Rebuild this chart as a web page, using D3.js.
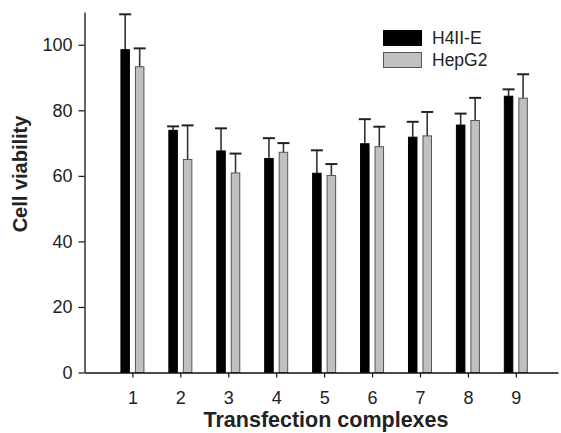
<!DOCTYPE html>
<html lang="en">
<head>
<meta charset="utf-8">
<title>Cell viability</title>
<script src="https://d3js.org/d3.v7.min.js"></script>
<style>
  body { margin: 0; background: #fff; }
  text { font-family: "Liberation Sans", Arial, sans-serif; fill: #222; }
</style>
</head>
<body>
<script>
// values
const complexes = [1, 2, 3, 4, 5, 6, 7, 8, 9];
const h4iieMean = [98.5, 73.9, 67.6, 65.3, 60.8, 69.8, 71.8, 75.5, 84.3];
const h4iieErr  = [10.8, 1.2, 6.9, 6.2, 7.0, 7.5, 4.7, 3.5, 2.1];
const hepg2Mean = [93.3, 65.0, 60.9, 67.2, 60.1, 68.9, 72.2, 76.9, 83.7];
const hepg2Err  = [5.6, 10.4, 5.9, 2.8, 3.5, 6.1, 7.3, 6.9, 7.3];
const seriesNames = ["H4II-E", "HepG2"];
const yTicks = [0, 20, 40, 60, 80, 100];

const width = 561, height = 433;

const svg = d3.select("body").append("svg")
  .attr("width", width)
  .attr("height", height);

const x = d3.scaleLinear().domain([0, 9.88]).range([84.5, 558]);
const y = d3.scaleLinear().domain([0, 110]).range([372.5, 12]);

const barW = 9.5, gap = 2.5;

const series = [
  { name: seriesNames[0], mean: h4iieMean, err: h4iieErr, fill: "#000", stroke: "#000", off: -(gap + barW) },
  { name: seriesNames[1], mean: hepg2Mean, err: hepg2Err, fill: "#c0c0c0", stroke: "#555", off: gap }
];

// bars + error bars
series.forEach(s => {
  const g = svg.append("g");
  const rows = complexes.map((c, i) => ({ c, m: s.mean[i], e: s.err[i] }));

  g.selectAll("line.err").data(rows).join("line")
    .attr("x1", d => x(d.c) + s.off + barW / 2)
    .attr("x2", d => x(d.c) + s.off + barW / 2)
    .attr("y1", d => y(d.m))
    .attr("y2", d => y(d.m + d.e))
    .attr("stroke", "#333").attr("stroke-width", 1.6);

  g.selectAll("line.cap").data(rows).join("line")
    .attr("x1", d => x(d.c) + s.off + barW / 2 - 6)
    .attr("x2", d => x(d.c) + s.off + barW / 2 + 6)
    .attr("y1", d => y(d.m + d.e))
    .attr("y2", d => y(d.m + d.e))
    .attr("stroke", "#222").attr("stroke-width", 2);

  g.selectAll("rect").data(rows).join("rect")
    .attr("x", d => x(d.c) + s.off + 0.5)
    .attr("y", d => y(d.m))
    .attr("width", barW - 1)
    .attr("height", d => y(0) - y(d.m))
    .attr("fill", s.fill)
    .attr("stroke", s.stroke)
    .attr("stroke-width", 1);
});

// axes
const yAxis = svg.append("g")
  .attr("transform", `translate(${x(0)},0)`)
  .call(d3.axisLeft(y).tickValues(yTicks).tickSize(6).tickPadding(6).tickSizeOuter(0));
yAxis.select(".domain").attr("stroke", "#111").attr("stroke-width", 1.3);
yAxis.selectAll(".tick line").attr("stroke", "#111").attr("stroke-width", 1.2);
yAxis.selectAll("text").style("font-size", "18px").attr("fill", "#222");

const xAxis = svg.append("g")
  .attr("transform", `translate(0,${y(0)})`)
  .call(d3.axisBottom(x).tickValues(complexes).tickSize(5).tickPadding(14).tickSizeOuter(0));
xAxis.select(".domain").attr("stroke", "#111").attr("stroke-width", 1.3);
xAxis.selectAll(".tick line").attr("stroke", "#111").attr("stroke-width", 1.2);
xAxis.selectAll("text").style("font-size", "18px").attr("fill", "#222");

// axis titles
svg.append("text")
  .attr("transform", "translate(27,174) rotate(-90)")
  .attr("text-anchor", "middle")
  .style("font-size", "20px").style("font-weight", "bold").attr("fill", "#000")
  .text("Cell viability");

svg.append("text")
  .attr("x", 326).attr("y", 427)
  .attr("text-anchor", "middle")
  .style("font-size", "21.5px").style("font-weight", "bold").attr("fill", "#000")
  .text("Transfection complexes");

// legend
const legend = svg.append("g").attr("transform", "translate(383,30)");
series.forEach((s, i) => {
  legend.append("rect")
    .attr("x", 0.5).attr("y", i * 22 + 0.5)
    .attr("width", 38).attr("height", 15)
    .attr("fill", s.fill).attr("stroke", s.stroke);
  legend.append("text")
    .attr("x", 49).attr("y", i * 22 + 13.5)
    .style("font-size", "17.5px")
    .text(s.name);
});
</script>
</body>
</html>
